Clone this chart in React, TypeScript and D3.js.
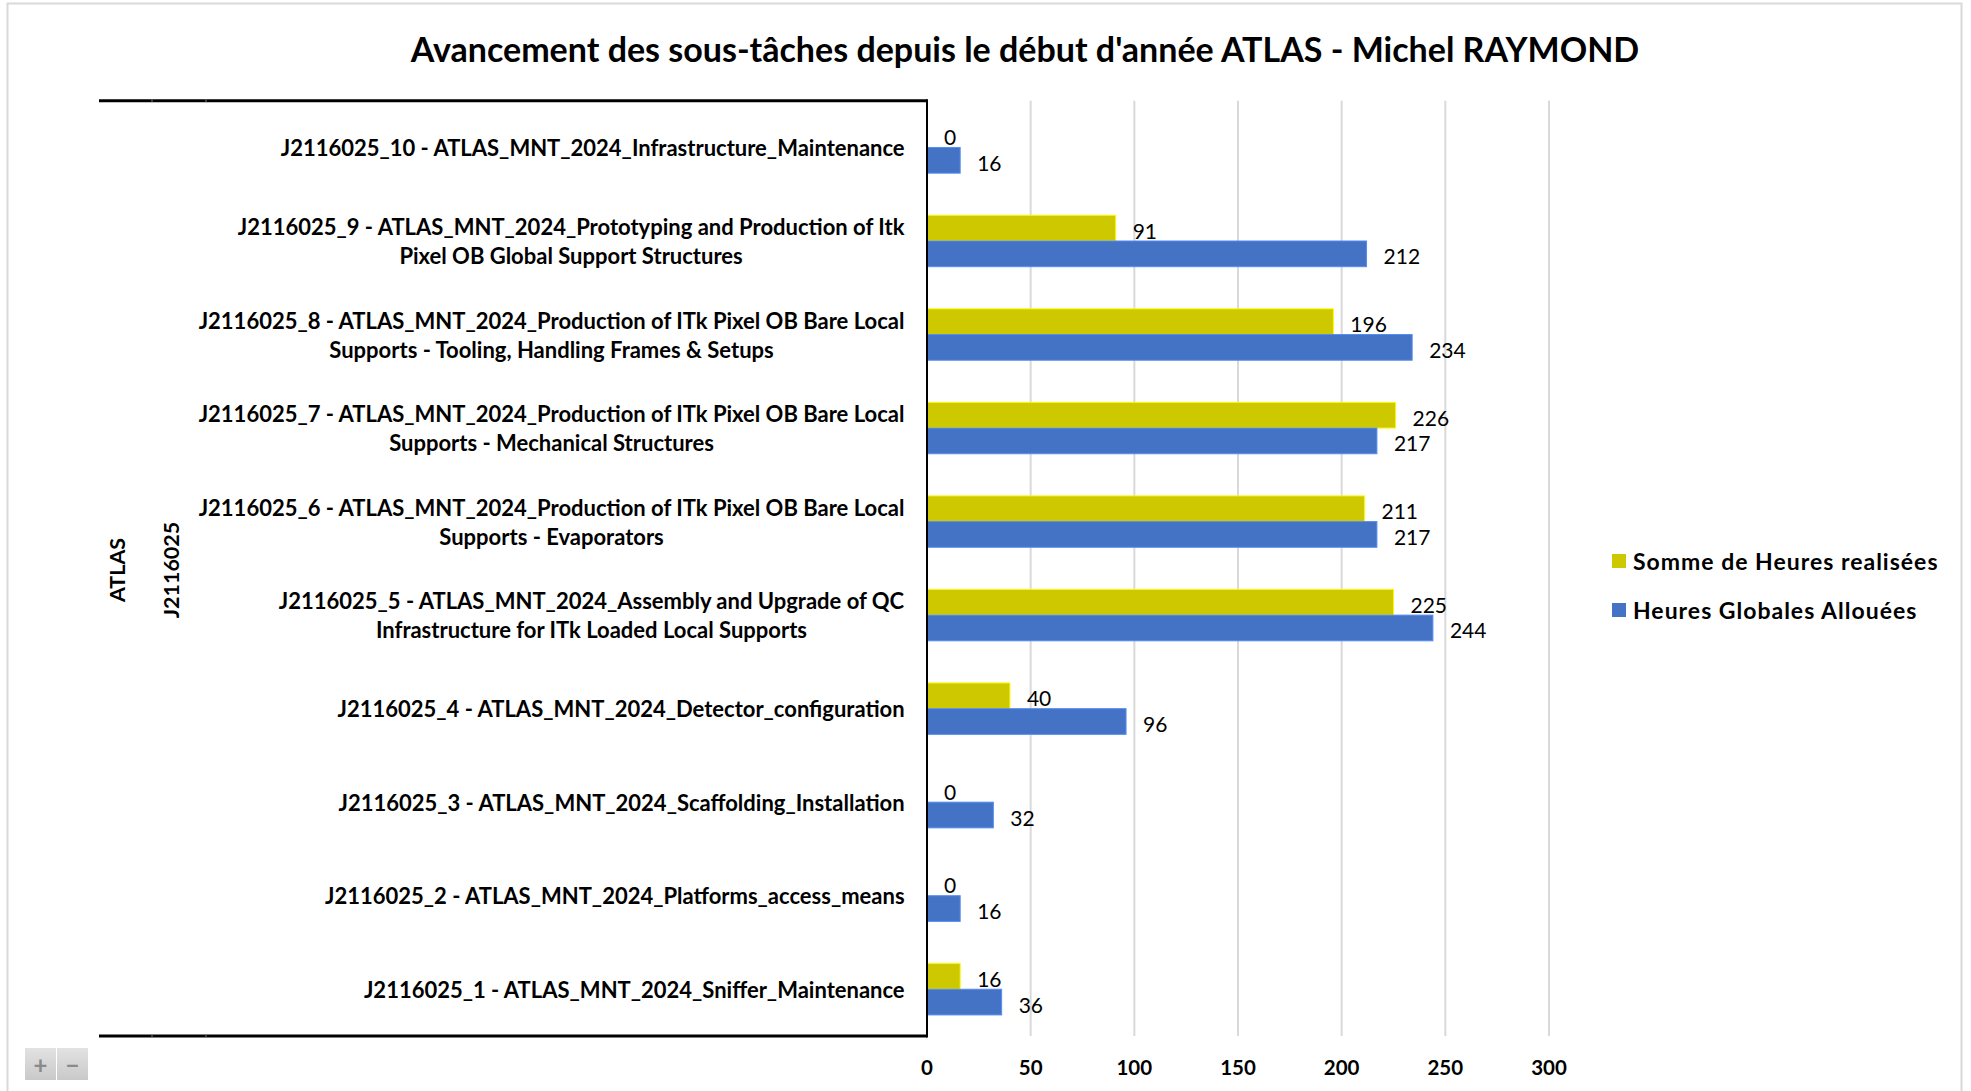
import React from 'react';
import * as d3 from 'd3';

// Sub-tasks, top to bottom as in the chart; multi-line labels split in lines
const taskLabels: string[][] = [
  ['J2116025_10 - ATLAS_MNT_2024_Infrastructure_Maintenance'],
  ['J2116025_9 - ATLAS_MNT_2024_Prototyping and Production of Itk', 'Pixel OB Global Support Structures'],
  ['J2116025_8 - ATLAS_MNT_2024_Production of ITk Pixel OB Bare Local', 'Supports - Tooling, Handling Frames & Setups'],
  ['J2116025_7 - ATLAS_MNT_2024_Production of ITk Pixel OB Bare Local', 'Supports - Mechanical Structures'],
  ['J2116025_6 - ATLAS_MNT_2024_Production of ITk Pixel OB Bare Local', 'Supports - Evaporators'],
  ['J2116025_5 - ATLAS_MNT_2024_Assembly and Upgrade of QC', 'Infrastructure for ITk Loaded Local Supports'],
  ['J2116025_4 - ATLAS_MNT_2024_Detector_configuration'],
  ['J2116025_3 - ATLAS_MNT_2024_Scaffolding_Installation'],
  ['J2116025_2 - ATLAS_MNT_2024_Platforms_access_means'],
  ['J2116025_1 - ATLAS_MNT_2024_Sniffer_Maintenance'],
];
const heuresRealisees = [0, 91, 196, 226, 211, 225, 40, 0, 0, 16];
const heuresAllouees = [16, 212, 234, 217, 217, 244, 96, 32, 16, 36];
const seriesNames = ['Somme de Heures realisées', 'Heures Globales Allouées'];
const seriesColors = ['#CEC800', '#4472C4'];
const xTicks = [0, 50, 100, 150, 200, 250, 300];
const outerLevels = ['ATLAS', 'J2116025'];
const title = "Avancement des sous-tâches depuis le début d'année ATLAS - Michel RAYMOND";

const W = 1971;
const H = 1091;
const FONT = 'Lato, "Open Sans", sans-serif';

let ctx: CanvasRenderingContext2D | null = null;
function textWidth(s: string, font: string) {
  if (!ctx) ctx = document.createElement('canvas').getContext('2d');
  if (!ctx) return s.length * 10;
  ctx.font = font;
  return ctx.measureText(s).width;
}

export default function App() {
  const top = 100.7;
  const bottom = 1036;
  const x = d3.scaleLinear().domain([0, 300]).range([927, 1549]);
  const y = d3.scaleBand<number>().domain(d3.range(taskLabels.length)).range([top, bottom]);
  const inner = d3.scaleBand<number>().domain([0, 1]).range([0, y.bandwidth()]).paddingOuter(0.82);
  const series = [heuresRealisees, heuresAllouees];
  const labelRight = 905;
  const labelSize = 22;
  const labelFont = `bold ${labelSize}px ${FONT}`;

  return (
    <svg width={W} height={H} style={{position: 'absolute', left: 0, top: 0, background: '#fff'}}
         fontFamily={FONT}>
      <rect x={7.5} y={3.5} width={1954} height={1100} fill="#fff" stroke="#d9d9d9" strokeWidth={2} />

      <text x={1025} y={48} textAnchor="middle" dominantBaseline="central" fontSize={34} fontWeight="bold"
            fill="#000">{title}</text>

      {/* gridlines */}
      {xTicks.slice(1).map(t => (
        <line key={t} x1={x(t)} x2={x(t)} y1={top} y2={bottom} stroke="#d9d9d9" strokeWidth={2} />
      ))}

      {/* bars */}
      {series.map((vals, s) => vals.map((v, i) => (
        <rect key={`${s}-${i}`} x={x(0)} y={(y(i) as number) + (inner(s) as number)}
              width={x(v) - x(0)} height={inner.bandwidth()} fill={seriesColors[s]}
              stroke={d3.color(seriesColors[s])!.brighter(0.6).toString()} strokeWidth={1} />
      )))}

      {/* value labels */}
      {series.map((vals, s) => vals.map((v, i) => (
        <text key={`l${s}-${i}`} x={x(v) + 17} y={(y(i) as number) + (inner(s) as number) + inner.bandwidth() / 2 + 2}
              dominantBaseline="central" fontSize={21} fill="#000">{v}</text>
      )))}

      {/* category frame */}
      <line x1={99} x2={927} y1={top} y2={top} stroke="#000" strokeWidth={3} />
      <line x1={99} x2={927} y1={bottom} y2={bottom} stroke="#000" strokeWidth={3} />
      {[152, 206].map(px => (
        <g key={px}>
          <line x1={px} x2={px} y1={top - 1.5} y2={top + 1.5} stroke="#777" strokeWidth={1} />
          <line x1={px} x2={px} y1={bottom - 1.5} y2={bottom + 1.5} stroke="#777" strokeWidth={1} />
        </g>
      ))}
      <line x1={927} x2={927} y1={top - 1.5} y2={bottom + 1.5} stroke="#000" strokeWidth={2} />

      {/* category labels: lines centred within a right-aligned block */}
      {taskLabels.map((lines, i) => {
        const maxW = d3.max(lines, l => textWidth(l, labelFont)) as number;
        const cx = labelRight - maxW / 2;
        const cy = (y(i) as number) + y.bandwidth() / 2;
        return lines.map((l, k) => (
          <text key={`c${i}-${k}`} x={cx} y={cy + (k - (lines.length - 1) / 2) * 29}
                textAnchor="middle" dominantBaseline="central" fontSize={labelSize} fontWeight="bold"
                fill="#000">{l}</text>
        ));
      })}

      {/* outer category levels */}
      {outerLevels.map((l, k) => (
        <text key={l} transform={`translate(${k === 0 ? 117 : 171},570) rotate(-90)`} textAnchor="middle"
              dominantBaseline="central" fontSize={21.5} fontWeight="bold" fill="#000">{l}</text>
      ))}

      {/* x axis tick labels */}
      {xTicks.map(t => (
        <text key={`t${t}`} x={x(t)} y={1067} textAnchor="middle" dominantBaseline="central"
              fontSize={20.5} fontWeight="bold" fill="#000">{t}</text>
      ))}

      {/* legend */}
      {seriesNames.map((n, s) => (
        <g key={n} transform={`translate(1612,${561 + s * 49})`}>
          <rect x={0} y={-7} width={14} height={14} fill={seriesColors[s]} />
          <text x={21} y={0} dominantBaseline="central" fontSize={23} fontWeight="bold" letterSpacing={1}
                fill="#000">{n}</text>
        </g>
      ))}

      {/* zoom buttons */}
      <defs>
        <linearGradient id="btn" x1="0" x2="0" y1="0" y2="1">
          <stop offset="0" stopColor="#e2e2e2" />
          <stop offset="1" stopColor="#c9c9c9" />
        </linearGradient>
      </defs>
      {['+', '−'].map((s, k) => (
        <g key={s} transform={`translate(${25 + k * 32},1048)`}>
          <rect width={31} height={32} fill="url(#btn)" />
          <text x={15.5} y={16} textAnchor="middle" dominantBaseline="central" fontSize={24}
                fontWeight="bold" fill="#8a8a8a">{s}</text>
        </g>
      ))}
    </svg>
  );
}
